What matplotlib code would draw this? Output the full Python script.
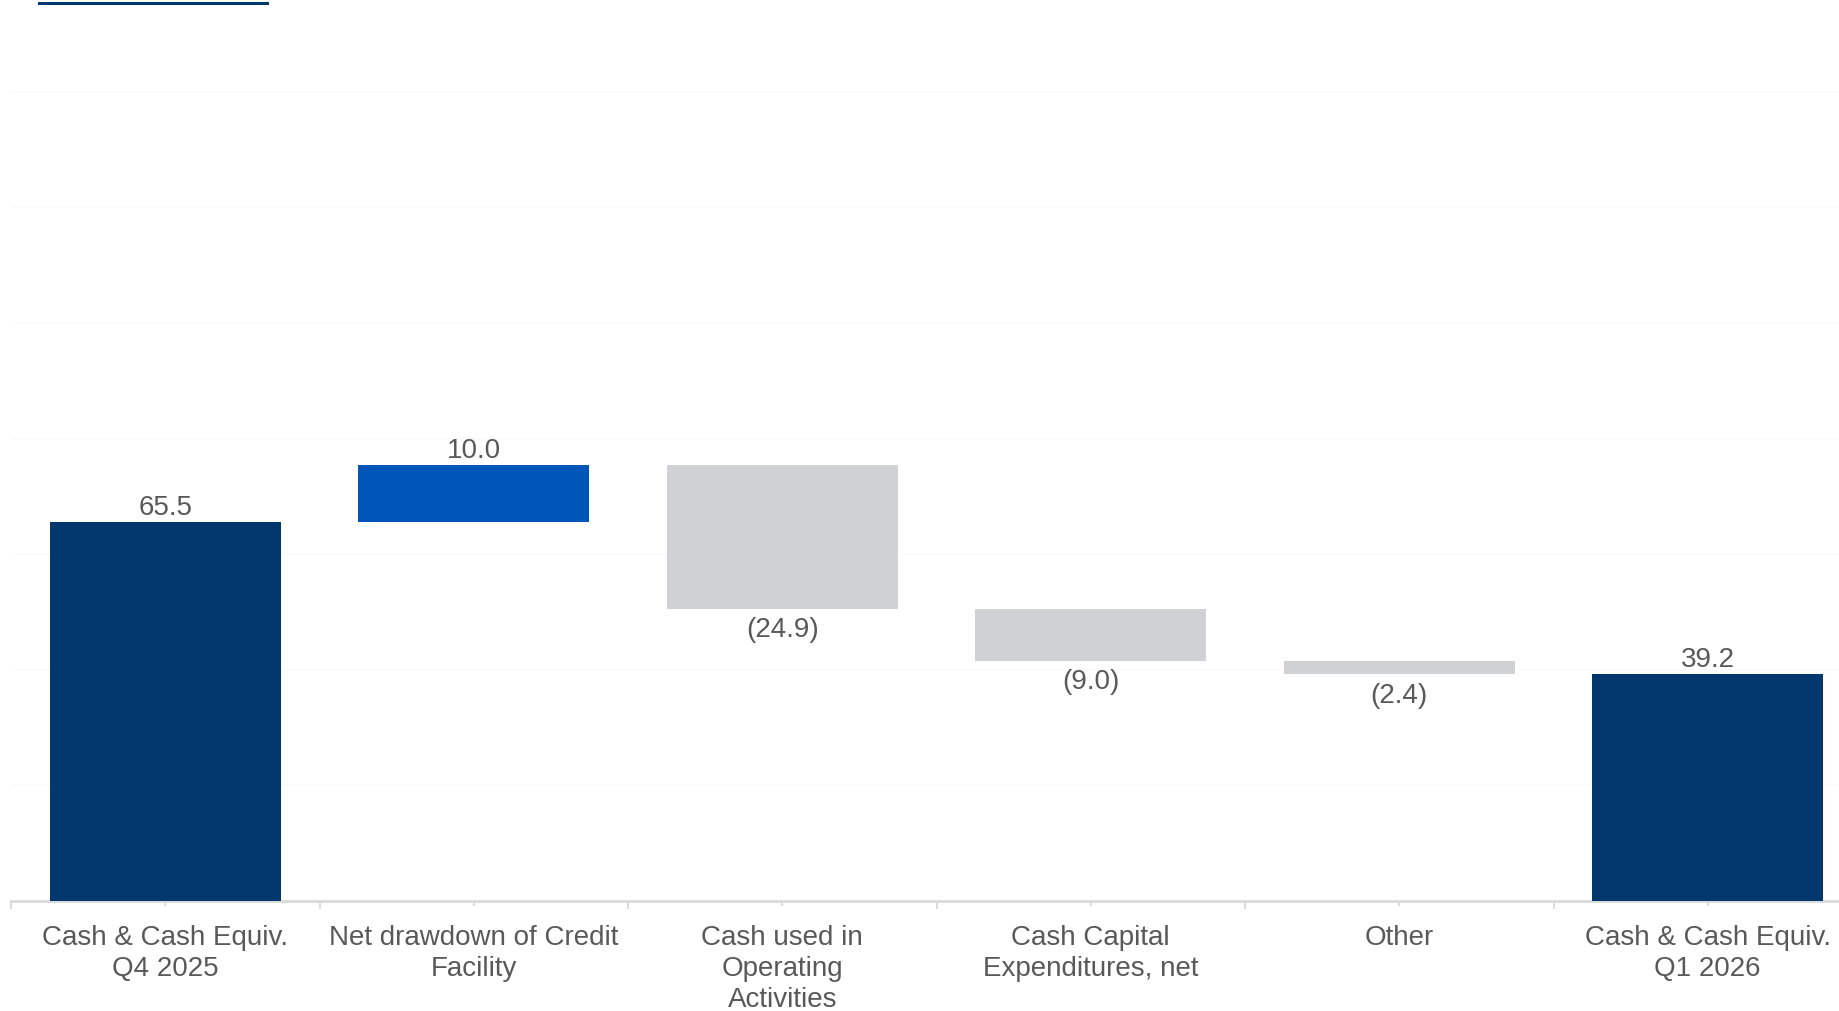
import matplotlib.pyplot as plt
from matplotlib.patches import Rectangle
import numpy as np

plt.rcParams['font.family'] = ['Liberation Sans', 'DejaVu Sans']

categories = ["Cash & Cash Equiv.\nQ4 2025", "Net drawdown of Credit\nFacility",
              "Cash used in\nOperating\nActivities", "Cash Capital\nExpenditures, net",
              "Other", "Cash & Cash Equiv.\nQ1 2026"]
start_cash = 65.5
changes = [10.0, -24.9, -9.0, -2.4]
end_cash = 39.2

navy = "#02386E"
blue = "#0055B8"
grey = "#CED2D5"
txt = "#595959"

W, H = 1839, 1011
fig = plt.figure(figsize=(W / 100, H / 100), dpi=100)
ax = fig.add_axes([11 / W, (H - 901) / H, 6 * 308.5 / W, 901 / H])

x = np.arange(len(categories))
bw = 0.75
fs = 20

# totals
ax.bar(x[0], start_cash, bw, color=navy, zorder=3)
ax.bar(x[-1], end_cash, bw, color=navy, zorder=3)
ax.text(x[0], start_cash + 0.2, f"{start_cash:.1f}", ha="center", va="bottom", fontsize=fs, color=txt)
ax.text(x[-1], end_cash + 0.2, f"{end_cash:.1f}", ha="center", va="bottom", fontsize=fs, color=txt)

# floating steps
level = start_cash
for i, d in enumerate(changes):
    xi = x[i + 1]
    low = level + min(d, 0)
    ax.bar(xi, abs(d), bw, bottom=low, color=blue if d > 0 else grey, zorder=3)
    if d > 0:
        ax.text(xi, level + d + 0.2, f"{d:.1f}", ha="center", va="bottom", fontsize=fs, color=txt)
    else:
        ax.text(xi, low - 1.4, f"({abs(d):.1f})", ha="center", va="top", fontsize=fs, color=txt)
    level += d

ax.set_xlim(-0.5, 5.5)
ax.set_ylim(0, 155.9)
ax.set_yticks([20, 40, 60, 80, 100, 120, 140])
ax.yaxis.grid(True, color="#FBFBFB", linewidth=1.2, zorder=0)
ax.tick_params(axis="y", left=False, labelleft=False)

ax.set_xticks(x)
ax.set_xticklabels(categories, fontsize=fs, color=txt, linespacing=1.25)
ax.set_xticks(np.arange(-0.5, 6, 1), minor=True)
ax.tick_params(axis="x", which="major", length=3.5, width=1.3, color="#D9D9D9", pad=14)
ax.tick_params(axis="x", which="minor", length=6, width=1.3, color="#D9D9D9")

for s in ["top", "right", "left"]:
    ax.spines[s].set_visible(False)
ax.spines["bottom"].set_color("#D9D9D9")
ax.spines["bottom"].set_linewidth(2)

# decoration line at top
fig.add_artist(Rectangle((38 / W, 1 - 5 / H), 231 / W, 3 / H, transform=fig.transFigure,
                         color=navy, linewidth=0))

fig.savefig("out.png", dpi=100)
